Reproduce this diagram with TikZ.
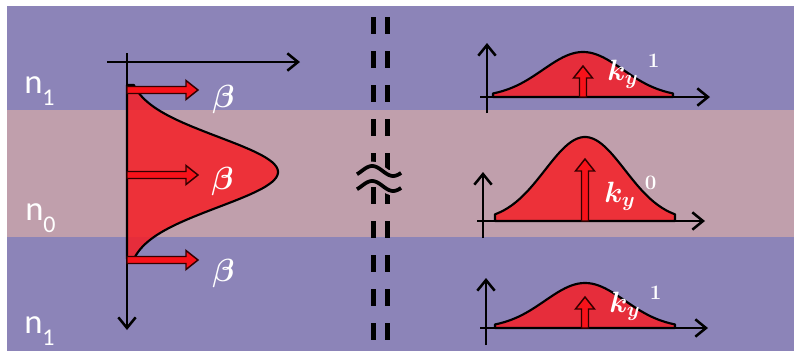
\RequirePackage{fix-cm}
\documentclass[tikz,border=0pt]{standalone}
\usepackage[no-math]{fontspec}
\newfontfamily\labelfont{Carlito}
\usetikzlibrary{arrows.meta, positioning}

\definecolor{BandPurple}{RGB}{140,132,184}
\definecolor{BandPink}{RGB}{192,159,172}
\definecolor{ProfileRed}{RGB}{246,30,38}
\definecolor{ArrowRed}{RGB}{248,18,26}

\newcommand{\AxisLine}{1.9pt}
\newcommand{\ShaftHalf}{3.5}
\newcommand{\HeadHalf}{9.5}
\newcommand{\HeadLen}{12}
\newcommand{\IndexSub}[1]{\raisebox{-9pt}{\fontsize{18}{20}\selectfont #1}}

\tikzset{Axis/.style={
    line width=\AxisLine,
    draw=black,
    -{Straight Barb[length=8pt,width=13pt]}
    }
}
\tikzset{Profile/.style={
    fill=ProfileRed,
    fill opacity=0.85,
    draw=black,
    line width=1.6pt,
    line join=round
    }
}
\tikzset{BlockArrowStyle/.style={
    fill=ArrowRed,
    draw=black!80!red,
    line width=1.1pt
    }
}
\tikzset{BreakLine/.style={
    line width=3.75pt,
    draw=black,
    dash pattern=on 12.4pt off 13.1pt
    }
}
\tikzset{IndexLabel/.style={
    text=white,
    inner sep=0pt,
    anchor=base west,
    font=\labelfont\fontsize{26}{30}\selectfont
    }
}
\tikzset{BetaLabel/.style={
    text=white,
    inner sep=0pt,
    anchor=base west,
    font=\fontsize{24}{28}\selectfont\boldmath
    }
}
\tikzset{KLabel/.style={
    text=white,
    inner sep=0pt,
    anchor=base west,
    font=\fontsize{22}{26}\selectfont\boldmath
    }
}

% origin, length, angle
\newcommand{\BlockArrow}[3]{%
  \draw[BlockArrowStyle, shift={#1}, rotate=#3]
    (0,-\ShaftHalf) -- ({#2-\HeadLen},-\ShaftHalf) -- ({#2-\HeadLen},-\HeadHalf)
    -- (#2,0) -- ({#2-\HeadLen},\HeadHalf) -- ({#2-\HeadLen},\ShaftHalf)
    -- (0,\ShaftHalf) -- cycle;
}

\begin{document}
\begin{tikzpicture}[x=0.75pt, y=-0.75pt]
    \useasboundingbox (0,0) rectangle (794,351);
    \fill[white] (0,0) rectangle (794,351);

    % layers
    \fill[BandPurple] (7,6) rectangle (794,110);
    \fill[BandPink] (7,110) rectangle (794,237);
    \fill[BandPurple] (7,237) rectangle (794,351);

    \node (nTop) [IndexLabel] at (24,93) {n\IndexSub{1}};
    \node (nCore) [IndexLabel] at (25,220) {n\IndexSub{0}};
    \node (nBot) [IndexLabel] at (24,333) {n\IndexSub{1}};

    % mode profile
    \draw[Profile] (127,85) -- plot[domain=85:259, samples=80, smooth]
        ({127+151*exp(-0.5*((\x-172)/35)^2)}, \x) -- (127,259) -- cycle;

    \coordinate (vTop) at (127,53);
    \coordinate (vBot) at (127,330);
    \coordinate (hLeft) at (107,62);
    \coordinate (hRight) at (300,62);
        \draw[Axis] (vTop) -- (vBot);
        \draw[Axis] (hLeft) -- (hRight);

    \BlockArrow{(127,90)}{71}{0}
    \BlockArrow{(127,175)}{71}{0}
    \BlockArrow{(127,260)}{71}{0}

    \node (betaTop) [BetaLabel] at (212,107) {$\beta$};
    \node (betaMid) [BetaLabel] at (211,189) {$\beta$};
    \node (betaBot) [BetaLabel] at (212,281) {$\beta$};

    % break
    \draw[BreakLine] (373,17) -- (373,351);
    \draw[BreakLine] (387,17) -- (387,351);
    \foreach \c in {171,186}{
        \draw[BandPink, line width=6.5pt] plot[domain=0:1.05, samples=30, smooth]
            ({357+42*\x}, {\c-5*sin(360*\x-40)});
        \draw[black, line width=2.8pt] plot[domain=0:1.05, samples=30, smooth]
            ({357+42*\x}, {\c-5*sin(360*\x-40)});
    }

    % spectra
    \draw[Profile] (493,97) -- plot[domain=493:673, samples=60, smooth]
        (\x, {97-45*exp(-0.5*((\x-583)/40)^2)}) -- (673,97) -- cycle;
    \draw[Profile] (495,221) -- plot[domain=495:675, samples=60, smooth]
        (\x, {221-84*exp(-0.5*((\x-585)/40)^2)}) -- (675,221) -- cycle;
    \draw[Profile] (495,328) -- plot[domain=495:675, samples=60, smooth]
        (\x, {328-45*exp(-0.5*((\x-585)/40)^2)}) -- (675,328) -- cycle;

    \draw[Axis] (487,113) -- (487,43);
    \draw[Axis] (480,97) -- (710,97);
    \draw[Axis] (483,238) -- (483,172);
    \draw[Axis] (477,221) -- (705,221);
    \draw[Axis] (486,345) -- (486,278);
    \draw[Axis] (480,328) -- (708,328);

    \BlockArrow{(583,97)}{31}{90}
    \BlockArrow{(585,221)}{62}{90}
    \BlockArrow{(585,328)}{31}{90}

    \node (kTop) [KLabel] at (607,80) {$\displaystyle k_y\hspace{7pt}{}^1$};
    \node (kMid) [KLabel] at (604,202) {$\displaystyle k_y\hspace{7pt}{}^0$};
    \node (kBot) [KLabel] at (609,312) {$\displaystyle k_y\hspace{7pt}{}^1$};
\end{tikzpicture}
\end{document}
